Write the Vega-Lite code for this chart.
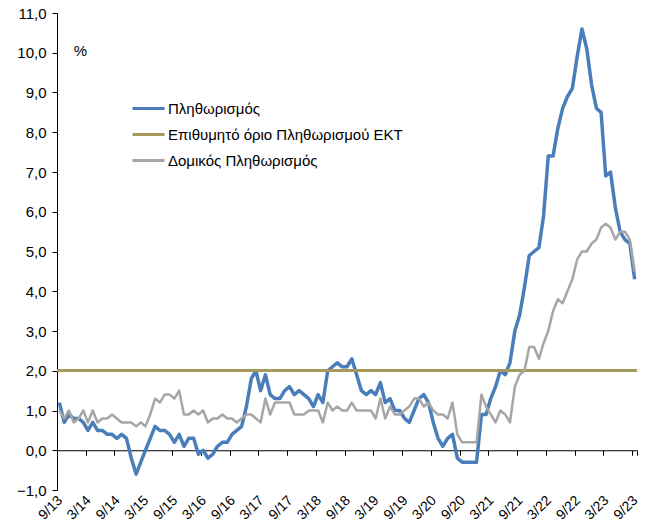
{
  "$schema": "https://vega.github.io/schema/vega-lite/v6.json",
  "width": 580,
  "height": 477,
  "autosize": {"type": "none"},
  "padding": {"left": 57, "top": 13, "right": 12, "bottom": 38},
  "background": "white",
  "config": {
    "font": "Liberation Sans",
    "view": {"stroke": null},
    "axis": {"labelFont": "Liberation Sans", "labelFontSize": 14, "labelColor": "black", "grid": false, "domainColor": "black", "tickColor": "black", "domainWidth": 1, "tickWidth": 1},
    "axisY": {"labelFontSize": 15, "tickSize": 5, "labelPadding": 6, "labelOverlap": false, "titleAngle": 0, "titleX": 23, "titleY": 37, "titleAlign": "center", "titleBaseline": "middle", "titleFontWeight": "normal", "titleFontSize": 15, "titleFont": "Liberation Sans", "titleColor": "black"},
    "legend": {"orient": "none", "legendX": 74, "legendY": 78, "symbolType": "stroke", "symbolSize": 1024, "symbolStrokeWidth": 3, "labelFontSize": 15, "labelFont": "Liberation Sans", "labelColor": "black", "labelLimit": 0, "rowPadding": -4, "labelOffset": 2, "padding": 0}
  },
  "data": {
    "values": [
      {"d": "2013-09", "p": 1.2, "c": 1.0}, {"d": "2013-10", "p": 0.7, "c": 0.8}, {"d": "2013-11", "p": 0.9, "c": 1.0}, {"d": "2013-12", "p": 0.8, "c": 0.7},
      {"d": "2014-01", "p": 0.8, "c": 0.8}, {"d": "2014-02", "p": 0.7, "c": 1.0}, {"d": "2014-03", "p": 0.5, "c": 0.7}, {"d": "2014-04", "p": 0.7, "c": 1.0},
      {"d": "2014-05", "p": 0.5, "c": 0.7}, {"d": "2014-06", "p": 0.5, "c": 0.8}, {"d": "2014-07", "p": 0.4, "c": 0.8}, {"d": "2014-08", "p": 0.4, "c": 0.9},
      {"d": "2014-09", "p": 0.3, "c": 0.8}, {"d": "2014-10", "p": 0.4, "c": 0.7}, {"d": "2014-11", "p": 0.3, "c": 0.7}, {"d": "2014-12", "p": -0.2, "c": 0.7},
      {"d": "2015-01", "p": -0.6, "c": 0.6}, {"d": "2015-02", "p": -0.3, "c": 0.7}, {"d": "2015-03", "p": 0.0, "c": 0.6}, {"d": "2015-04", "p": 0.3, "c": 0.9},
      {"d": "2015-05", "p": 0.6, "c": 1.3}, {"d": "2015-06", "p": 0.5, "c": 1.2}, {"d": "2015-07", "p": 0.5, "c": 1.4}, {"d": "2015-08", "p": 0.4, "c": 1.4},
      {"d": "2015-09", "p": 0.2, "c": 1.3}, {"d": "2015-10", "p": 0.4, "c": 1.5}, {"d": "2015-11", "p": 0.1, "c": 0.9}, {"d": "2015-12", "p": 0.3, "c": 0.9},
      {"d": "2016-01", "p": 0.3, "c": 1.0}, {"d": "2016-02", "p": -0.1, "c": 0.9}, {"d": "2016-03", "p": 0.0, "c": 1.0}, {"d": "2016-04", "p": -0.2, "c": 0.7},
      {"d": "2016-05", "p": -0.1, "c": 0.8}, {"d": "2016-06", "p": 0.1, "c": 0.8}, {"d": "2016-07", "p": 0.2, "c": 0.9}, {"d": "2016-08", "p": 0.2, "c": 0.8},
      {"d": "2016-09", "p": 0.4, "c": 0.8}, {"d": "2016-10", "p": 0.5, "c": 0.7}, {"d": "2016-11", "p": 0.6, "c": 0.8}, {"d": "2016-12", "p": 1.1, "c": 0.9},
      {"d": "2017-01", "p": 1.8, "c": 0.9}, {"d": "2017-02", "p": 2.0, "c": 0.8}, {"d": "2017-03", "p": 1.5, "c": 0.7}, {"d": "2017-04", "p": 1.9, "c": 1.3},
      {"d": "2017-05", "p": 1.4, "c": 0.9}, {"d": "2017-06", "p": 1.3, "c": 1.2}, {"d": "2017-07", "p": 1.3, "c": 1.2}, {"d": "2017-08", "p": 1.5, "c": 1.2},
      {"d": "2017-09", "p": 1.6, "c": 1.2}, {"d": "2017-10", "p": 1.4, "c": 0.9}, {"d": "2017-11", "p": 1.5, "c": 0.9}, {"d": "2017-12", "p": 1.4, "c": 0.9},
      {"d": "2018-01", "p": 1.3, "c": 1.0}, {"d": "2018-02", "p": 1.1, "c": 1.0}, {"d": "2018-03", "p": 1.4, "c": 1.0}, {"d": "2018-04", "p": 1.2, "c": 0.7},
      {"d": "2018-05", "p": 2.0, "c": 1.2}, {"d": "2018-06", "p": 2.1, "c": 1.0}, {"d": "2018-07", "p": 2.2, "c": 1.1}, {"d": "2018-08", "p": 2.1, "c": 1.0},
      {"d": "2018-09", "p": 2.1, "c": 1.0}, {"d": "2018-10", "p": 2.3, "c": 1.2}, {"d": "2018-11", "p": 1.9, "c": 1.0}, {"d": "2018-12", "p": 1.5, "c": 1.0},
      {"d": "2019-01", "p": 1.4, "c": 1.0}, {"d": "2019-02", "p": 1.5, "c": 1.0}, {"d": "2019-03", "p": 1.4, "c": 0.8}, {"d": "2019-04", "p": 1.7, "c": 1.3},
      {"d": "2019-05", "p": 1.2, "c": 0.8}, {"d": "2019-06", "p": 1.3, "c": 1.1}, {"d": "2019-07", "p": 1.0, "c": 0.9}, {"d": "2019-08", "p": 1.0, "c": 0.9},
      {"d": "2019-09", "p": 0.8, "c": 1.0}, {"d": "2019-10", "p": 0.7, "c": 1.1}, {"d": "2019-11", "p": 1.0, "c": 1.3}, {"d": "2019-12", "p": 1.3, "c": 1.3},
      {"d": "2020-01", "p": 1.4, "c": 1.1}, {"d": "2020-02", "p": 1.2, "c": 1.2}, {"d": "2020-03", "p": 0.7, "c": 1.0}, {"d": "2020-04", "p": 0.3, "c": 0.9},
      {"d": "2020-05", "p": 0.1, "c": 0.9}, {"d": "2020-06", "p": 0.3, "c": 0.8}, {"d": "2020-07", "p": 0.4, "c": 1.2}, {"d": "2020-08", "p": -0.2, "c": 0.4},
      {"d": "2020-09", "p": -0.3, "c": 0.2}, {"d": "2020-10", "p": -0.3, "c": 0.2}, {"d": "2020-11", "p": -0.3, "c": 0.2}, {"d": "2020-12", "p": -0.3, "c": 0.2},
      {"d": "2021-01", "p": 0.9, "c": 1.4}, {"d": "2021-02", "p": 0.9, "c": 1.1}, {"d": "2021-03", "p": 1.3, "c": 0.9}, {"d": "2021-04", "p": 1.6, "c": 0.7},
      {"d": "2021-05", "p": 2.0, "c": 1.0}, {"d": "2021-06", "p": 1.9, "c": 0.9}, {"d": "2021-07", "p": 2.2, "c": 0.7}, {"d": "2021-08", "p": 3.0, "c": 1.6},
      {"d": "2021-09", "p": 3.4, "c": 1.9}, {"d": "2021-10", "p": 4.1, "c": 2.0}, {"d": "2021-11", "p": 4.9, "c": 2.6}, {"d": "2021-12", "p": 5.0, "c": 2.6},
      {"d": "2022-01", "p": 5.1, "c": 2.3}, {"d": "2022-02", "p": 5.9, "c": 2.7}, {"d": "2022-03", "p": 7.4, "c": 3.0}, {"d": "2022-04", "p": 7.4, "c": 3.5},
      {"d": "2022-05", "p": 8.1, "c": 3.8}, {"d": "2022-06", "p": 8.6, "c": 3.7}, {"d": "2022-07", "p": 8.9, "c": 4.0}, {"d": "2022-08", "p": 9.1, "c": 4.3},
      {"d": "2022-09", "p": 9.9, "c": 4.8}, {"d": "2022-10", "p": 10.6, "c": 5.0}, {"d": "2022-11", "p": 10.1, "c": 5.0}, {"d": "2022-12", "p": 9.2, "c": 5.2},
      {"d": "2023-01", "p": 8.6, "c": 5.3}, {"d": "2023-02", "p": 8.5, "c": 5.6}, {"d": "2023-03", "p": 6.9, "c": 5.7}, {"d": "2023-04", "p": 7.0, "c": 5.6},
      {"d": "2023-05", "p": 6.1, "c": 5.3}, {"d": "2023-06", "p": 5.5, "c": 5.5}, {"d": "2023-07", "p": 5.3, "c": 5.5}, {"d": "2023-08", "p": 5.2, "c": 5.3},
      {"d": "2023-09", "p": 4.3, "c": 4.5}
    ]
  },
  "layer": [
    {
      "mark": {"type": "line", "strokeWidth": 3.5, "strokeJoin": "round"},
      "encoding": {
        "x": {
          "field": "d", "type": "temporal", "timeUnit": "utcyearmonth", "bandPosition": 0.5,
          "scale": {"domain": [{"year": 2013, "month": 9, "date": 1, "utc": true}, {"year": 2023, "month": 10, "date": 1, "utc": true}]},
          "axis": {
            "orient": "bottom", "title": null, "format": "%-m/%y", "labelAngle": -45, "labelAlign": "right", "labelBaseline": "middle",
            "ticks": false, "domain": false, "labelPadding": 8, "labelOffset": 3, "labelOverlap": false, "labelFlush": false, "labelBound": false,
            "values": [
              {"year": 2013, "month": 9, "date": 1, "utc": true}, {"year": 2014, "month": 3, "date": 1, "utc": true},
              {"year": 2014, "month": 9, "date": 1, "utc": true}, {"year": 2015, "month": 3, "date": 1, "utc": true},
              {"year": 2015, "month": 9, "date": 1, "utc": true}, {"year": 2016, "month": 3, "date": 1, "utc": true},
              {"year": 2016, "month": 9, "date": 1, "utc": true}, {"year": 2017, "month": 3, "date": 1, "utc": true},
              {"year": 2017, "month": 9, "date": 1, "utc": true}, {"year": 2018, "month": 3, "date": 1, "utc": true},
              {"year": 2018, "month": 9, "date": 1, "utc": true}, {"year": 2019, "month": 3, "date": 1, "utc": true},
              {"year": 2019, "month": 9, "date": 1, "utc": true}, {"year": 2020, "month": 3, "date": 1, "utc": true},
              {"year": 2020, "month": 9, "date": 1, "utc": true}, {"year": 2021, "month": 3, "date": 1, "utc": true},
              {"year": 2021, "month": 9, "date": 1, "utc": true}, {"year": 2022, "month": 3, "date": 1, "utc": true},
              {"year": 2022, "month": 9, "date": 1, "utc": true}, {"year": 2023, "month": 3, "date": 1, "utc": true},
              {"year": 2023, "month": 9, "date": 1, "utc": true}
            ]
          }
        },
        "y": {
          "field": "p", "type": "quantitative", "title": "%",
          "scale": {"domain": [-1, 11], "nice": false, "zero": false},
          "axis": {"values": [-1, 0, 1, 2, 3, 4, 5, 6, 7, 8, 9, 10, 11], "labelOverlap": false, "labelBound": false, "labelFlush": false, "labelExpr": "replace(format(datum.value, '.1f'), '.', ',')"}
        },
        "color": {
          "datum": "Πληθωρισμός", "type": "nominal",
          "scale": {"domain": ["Πληθωρισμός", "Επιθυμητό όριο Πληθωρισμού ΕΚΤ", "Δομικός Πληθωρισμός"], "range": ["#4A7EBB", "#A69A5E", "#A6A6A6"]},
          "legend": {"title": null, "labelLimit": 0}
        }
      }
    },
    {
      "mark": {"type": "rule", "strokeWidth": 2.5},
      "encoding": {
        "y": {"datum": 2, "type": "quantitative", "title": "%",
          "axis": {"values": [-1, 0, 1, 2, 3, 4, 5, 6, 7, 8, 9, 10, 11], "labelOverlap": false, "labelBound": false, "labelFlush": false, "labelExpr": "replace(format(datum.value, '.1f'), '.', ',')"}},
        "color": {"datum": "Επιθυμητό όριο Πληθωρισμού ΕΚΤ", "type": "nominal"}
      }
    },
    {
      "mark": {"type": "line", "strokeWidth": 2.5, "strokeJoin": "round"},
      "encoding": {
        "x": {
          "field": "d", "type": "temporal", "timeUnit": "utcyearmonth", "bandPosition": 0.5,
          "axis": {
            "orient": "bottom", "title": null, "labels": false, "ticks": true, "tickSize": 5, "domain": true, "offset": -39.75,
            "values": [
              {"year": 2013, "month": 9, "date": 1, "utc": true}, {"year": 2014, "month": 3, "date": 1, "utc": true},
              {"year": 2014, "month": 9, "date": 1, "utc": true}, {"year": 2015, "month": 3, "date": 1, "utc": true},
              {"year": 2015, "month": 9, "date": 1, "utc": true}, {"year": 2016, "month": 3, "date": 1, "utc": true},
              {"year": 2016, "month": 9, "date": 1, "utc": true}, {"year": 2017, "month": 3, "date": 1, "utc": true},
              {"year": 2017, "month": 9, "date": 1, "utc": true}, {"year": 2018, "month": 3, "date": 1, "utc": true},
              {"year": 2018, "month": 9, "date": 1, "utc": true}, {"year": 2019, "month": 3, "date": 1, "utc": true},
              {"year": 2019, "month": 9, "date": 1, "utc": true}, {"year": 2020, "month": 3, "date": 1, "utc": true},
              {"year": 2020, "month": 9, "date": 1, "utc": true}, {"year": 2021, "month": 3, "date": 1, "utc": true},
              {"year": 2021, "month": 9, "date": 1, "utc": true}, {"year": 2022, "month": 3, "date": 1, "utc": true},
              {"year": 2022, "month": 9, "date": 1, "utc": true}, {"year": 2023, "month": 3, "date": 1, "utc": true},
              {"year": 2023, "month": 9, "date": 1, "utc": true}, {"year": 2023, "month": 10, "date": 1, "utc": true}
            ]
          }
        },
        "y": {"field": "c", "type": "quantitative", "title": "%",
          "axis": {"values": [-1, 0, 1, 2, 3, 4, 5, 6, 7, 8, 9, 10, 11], "labelOverlap": false, "labelBound": false, "labelFlush": false, "labelExpr": "replace(format(datum.value, '.1f'), '.', ',')"}},
        "color": {"datum": "Δομικός Πληθωρισμός", "type": "nominal"}
      }
    }
  ],
  "resolve": {"axis": {"x": "independent"}}
}
